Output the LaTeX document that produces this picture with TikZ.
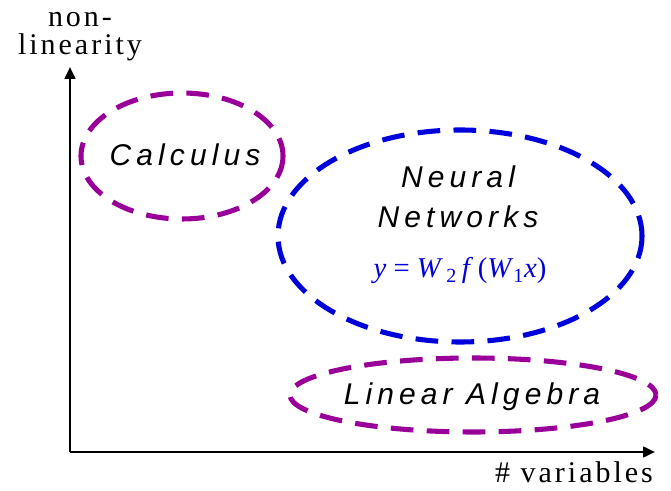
\documentclass[tikz,border=0pt]{standalone}
\usepackage{fontspec}
\setmainfont{Liberation Serif}
\setsansfont{Liberation Sans}
\newfontfamily\spacedsans[LetterSpace=17]{Liberation Sans}
\newfontfamily\spacedserif[LetterSpace=10]{Liberation Serif}
\usepackage{tikz}
\usetikzlibrary{arrows.meta}
\definecolor{fieldpurple}{RGB}{153,0,153}
\definecolor{fieldblue}{RGB}{0,0,221}
\tikzset{
  axis/.style={line width=1.9pt,-{Triangle[length=9pt,width=8pt]}},
  field/.style={line width=3.8pt,dash pattern=on 17pt off 10pt},
  fieldname/.style={font=\spacedsans\itshape\fontsize{22.5}{30}\selectfont,align=center},
  axislabel/.style={font=\spacedserif\fontsize{22.5}{21}\selectfont,align=center}
}

\begin{document}
\begin{tikzpicture}[x=0.75pt,y=-0.75pt]
\useasboundingbox (0,0) rectangle (671,491);
\coordinate (origin) at (70,452);
\coordinate (ytip) at (70,67);
\coordinate (xtip) at (655,452);
\draw[axis] (origin) -- (ytip);
\draw[axis] (origin) -- (xtip);
\node[axislabel] (ylabel) at (80,37) {non-\\linearity};
\node[axislabel] (xlabel) at (574,472) {\# variables};
\draw[field,fieldpurple] (182,156) ellipse (101 and 63);
\draw[field,fieldblue] (460,236) ellipse (182 and 106);
\draw[field,fieldpurple] (473,395) ellipse (183 and 37);
\node[fieldname] (calc) at (185,155) {Calculus};
\node[fieldname] (nn) at (458,197) {Neural\\Networks};
\node[fieldblue,font=\fontsize{21.5}{24}\selectfont] (nnform) at (460,271)
  {\textit{y} = \textit{W}\textsubscript{\,2}\,\textit{f}\,(\textit{W}\textsubscript{1}\textit{x})};
\node[fieldname] (linalg) at (472,397) {Linear Algebra};
\end{tikzpicture}
\end{document}
